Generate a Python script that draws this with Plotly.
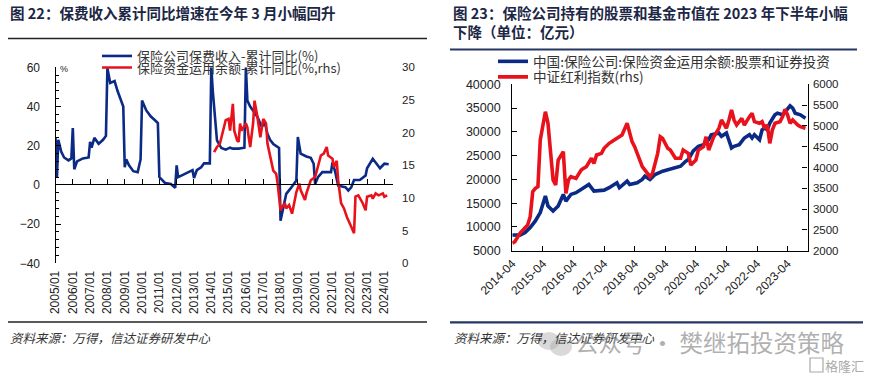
import plotly.graph_objects as go

W, H = 870, 377

# ---------------- Left chart data (Fig 22) ----------------
L_BLUE_DATES = ["2005-01", "2005-02", "2005-03", "2005-05", "2005-07", "2005-10", "2005-12",
                "2006-01", "2006-02", "2006-04", "2006-08", "2006-12",
                "2007-01", "2007-02", "2007-04", "2007-07", "2007-10", "2007-12",
                "2008-01", "2008-03", "2008-06", "2008-08", "2008-12",
                "2009-01", "2009-02", "2009-04", "2009-07", "2009-10", "2009-12",
                "2010-01", "2010-04", "2010-07", "2010-10", "2010-12",
                "2011-01", "2011-05", "2011-09", "2011-12",
                "2012-01", "2012-02", "2012-05", "2012-09", "2012-12",
                "2013-01", "2013-03", "2013-06", "2013-08", "2013-12",
                "2014-01", "2014-02", "2014-04", "2014-05", "2014-08", "2014-11",
                "2015-02", "2015-04", "2015-08", "2015-12",
                "2016-01", "2016-02", "2016-04", "2016-09", "2016-12",
                "2017-02", "2017-04", "2017-06", "2017-08", "2017-12",
                "2018-01", "2018-03", "2018-05", "2018-08", "2018-12",
                "2019-01", "2019-03", "2019-07", "2019-10", "2019-12",
                "2020-01", "2020-03", "2020-06", "2020-12",
                "2021-01", "2021-03", "2021-05", "2021-10", "2021-12",
                "2022-02", "2022-04", "2022-08", "2022-12",
                "2023-01", "2023-03", "2023-05", "2023-10",
                "2024-01", "2024-04"]
L_BLUE = [24, 4, 23, 17, 14, 12.5, 13.5,
          29, 8, 12, 13.5, 14,
          22, 19, 24, 21, 23, 25,
          59.5, 52, 53, 48, 40,
          9, 13, 10, 7, 6.5, 13,
          43, 38, 35, 33, 31.5,
          4, 1, 0.5, -1.5,
          10, 4, 5, 6.5, 7.5,
          3.5, 7.5, 9, 11, 11,
          60, 48, 31, 22.7, 18.8, 18,
          19, 18.5, 18.5, 19,
          60, 43, 40, 34.7, 29.5,
          32, 26, 22.7, 20.9, 18.8,
          -18.3, -11.5, -4.6, -1.8, 2.2,
          24.4, 16, 14.5, 13.8, 10.8,
          0.5, 3.9, 6.5, 6.5,
          11.5, 6.5, -0.4, -1.2, -2.9,
          -1.2, 2.5, 2.5, 4.8,
          8.5, 10.8, 13.3, 8.5,
          10.8, 10.5]

L_RED_DATES = ["2014-03", "2014-05", "2014-07", "2014-08", "2014-11",
               "2015-01", "2015-02", "2015-04", "2015-05", "2015-07", "2015-08", "2015-09", "2015-10",
               "2016-01", "2016-02", "2016-03", "2016-04", "2016-06", "2016-07", "2016-09", "2016-10", "2016-11",
               "2017-01", "2017-03", "2017-04", "2017-05", "2017-06", "2017-08", "2017-10", "2017-11",
               "2018-01", "2018-02", "2018-04", "2018-05", "2018-07", "2018-09", "2018-12",
               "2019-02", "2019-03", "2019-06", "2019-07", "2019-10",
               "2020-01", "2020-03", "2020-05", "2020-07", "2020-09", "2020-10",
               "2021-01", "2021-02", "2021-04", "2021-05", "2021-07", "2021-09", "2021-11",
               "2022-02", "2022-04", "2022-05", "2022-07", "2022-10", "2022-12",
               "2023-01", "2023-04", "2023-05", "2023-07", "2023-09", "2023-12",
               "2024-01", "2024-03"]
L_RED = [17.0, 17.8, 18.3, 19.3, 21.9,
         22.1, 20.3, 24.4, 20.3, 18.8, 18.6, 21.4, 20.3,
         21.4, 20.8, 19.3, 17.8, 21.4, 24.9, 22.4, 20.8, 19.3,
         22.1, 21.4, 18.3, 17.3, 15.8, 14.2, 13.7, 12.2,
         8.1, 8.6, 9.2, 8.4, 8.9, 7.6, 10.9,
         12.2, 11.2, 9.7, 10.7, 12.7,
         13.2, 14.7, 16.5, 16.8, 17.8, 16.5,
         16.0, 14.7, 15.7, 12.7, 9.2, 8.4, 7.1,
         5.6, 4.6, 10.2, 10.4, 9.2, 8.1,
         10.2, 10.4, 9.9, 10.7, 10.4, 10.7,
         10.2, 10.4]

# ---------------- Right chart data (Fig 23) ----------------
R_BLUE_DATES = ["2014-04", "2014-07", "2014-09", "2014-11", "2015-01", "2015-03", "2015-05", "2015-06",
                "2015-08", "2015-10", "2015-12", "2016-01", "2016-03", "2016-05", "2016-08", "2016-10",
                "2016-12", "2017-04", "2017-06", "2017-09", "2017-10", "2018-01", "2018-02", "2018-05",
                "2018-07", "2018-08", "2018-10", "2018-12", "2019-03", "2019-07", "2019-10", "2019-12",
                "2020-01", "2020-03", "2020-05", "2020-07", "2020-09", "2020-10", "2021-01", "2021-02",
                "2021-04", "2021-06", "2021-07", "2021-09", "2021-11", "2022-01", "2022-02", "2022-03",
                "2022-05", "2022-06", "2022-07", "2022-08", "2022-09", "2022-11", "2022-12", "2023-02",
                "2023-03", "2023-05", "2023-06", "2023-07", "2023-09", "2023-10", "2023-11"]
R_BLUE = [8300, 8270, 8830, 9880, 11260, 13010, 16490, 14400,
          13350, 14400, 16840, 15440, 16840, 17200, 18240, 18930,
          17530, 17740, 18240, 19290, 18240, 19620, 18930, 19290,
          19980, 20670, 19980, 21030, 21720, 22420, 22760, 23800,
          24160, 26000, 26950, 27300, 28350, 29390, 29750, 29050,
          29750, 26610, 26950, 27300, 28700, 29390, 28700, 29390,
          28350, 30440, 30790, 30440, 31840, 33580, 33930, 33580,
          34270, 35460, 35000, 33930, 33580, 33220, 32880]

R_RED_DATES = ["2014-04", "2014-05", "2014-07", "2014-08", "2014-10", "2014-11", "2014-12",
               "2015-01", "2015-02", "2015-03", "2015-05", "2015-06", "2015-07", "2015-08", "2015-09",
               "2015-10", "2015-12", "2016-01", "2016-02", "2016-03", "2016-05", "2016-07", "2016-08",
               "2016-09", "2016-11", "2016-12", "2017-01", "2017-03", "2017-04", "2017-06", "2017-08",
               "2017-10", "2017-11", "2018-01", "2018-02", "2018-03", "2018-04", "2018-05", "2018-06",
               "2018-07", "2018-09", "2018-10", "2018-11", "2019-01", "2019-02", "2019-03", "2019-05",
               "2019-06", "2019-08", "2019-10", "2019-11", "2020-01", "2020-02", "2020-04", "2020-05",
               "2020-07", "2020-08", "2020-09", "2020-11", "2021-01", "2021-02", "2021-04", "2021-05",
               "2021-06", "2021-07", "2021-08", "2021-10", "2021-11", "2022-01", "2022-02", "2022-03",
               "2022-05", "2022-06", "2022-07", "2022-08", "2022-09", "2022-10", "2022-11", "2023-01",
               "2023-02", "2023-03", "2023-04", "2023-05", "2023-06", "2023-08", "2023-09", "2023-11"]
R_RED = [2178, 2216, 2418, 2497, 2618, 2817, 3418,
         3500, 3538, 4661, 5341, 5062, 4260, 3699, 3579,
         4180, 4380, 3380, 3699, 3779, 3739, 3940, 3980,
         4020, 4221, 4100, 4300, 4340, 4461, 4582, 4661,
         4740, 4780, 5062, 4780, 4621, 4500, 4340, 4180,
         4020, 3860, 3779, 3860, 4340, 4740, 4700, 4461,
         4420, 4221, 4221, 4420, 4340, 4060, 4180, 4420,
         4500, 4740, 4420, 4740, 4942, 5142, 4942, 5142,
         5382, 5142, 5022, 5182, 5022, 5222, 5302, 5102,
         5062, 5102, 4942, 5022, 4582, 4900, 5062, 5102,
         5222, 5398, 5262, 5062, 5142, 5022, 4981, 4942]

L_LEGEND = ["保险公司保费收入-累计同比(%)", "保险资金运用余额-累计同比(%,rhs)"]
R_LEGEND = ["中国:保险公司:保险资金运用余额:股票和证券投资", "中证红利指数(rhs)"]

BLUE = "#0b2a85"
RED = "#e8121c"
NUM_FONT = "Liberation Sans, Arial, Noto Sans CJK SC"
CJK_FONT = "Noto Sans CJK SC"


def px_x(v):
    return v / W


def px_y(v):
    return 1 - v / H


fig = go.Figure()

# left chart traces
fig.add_trace(go.Scatter(x=L_BLUE_DATES, y=L_BLUE, mode="lines", name=L_LEGEND[0],
                         line=dict(color=BLUE, width=2.6), xaxis="x", yaxis="y", legend="legend"))
fig.add_trace(go.Scatter(x=L_RED_DATES, y=L_RED, mode="lines", name=L_LEGEND[1],
                         line=dict(color=RED, width=2.6), xaxis="x", yaxis="y2", legend="legend2"))
# invisible carrier so the zero-line axis is drawn
fig.add_trace(go.Scatter(x=L_BLUE_DATES, y=L_BLUE, mode="lines", showlegend=False,
                         line=dict(width=0), opacity=0, hoverinfo="skip", xaxis="x3", yaxis="y"))

# right chart traces
fig.add_trace(go.Scatter(x=R_BLUE_DATES, y=R_BLUE, mode="lines", name=R_LEGEND[0],
                         line=dict(color=BLUE, width=3.6), xaxis="x2", yaxis="y3", legend="legend3"))
fig.add_trace(go.Scatter(x=R_RED_DATES, y=R_RED, mode="lines", name=R_LEGEND[1],
                         line=dict(color=RED, width=3.6), xaxis="x2", yaxis="y4", legend="legend4"))

L_X0, L_X1 = px_x(55.5), px_x(393)
L_Y0, L_Y1 = px_y(263.3), px_y(67.3)
R_X0, R_X1 = px_x(512.3), px_x(807.5)
R_Y0, R_Y1 = px_y(250.7), px_y(84.3)

tickfont = dict(family=NUM_FONT, size=12, color="#222")

fig.update_layout(
    width=W, height=H,
    margin=dict(l=0, r=0, t=0, b=0, autoexpand=False),
    paper_bgcolor="white", plot_bgcolor="rgba(0,0,0,0)",
    showlegend=True,
    xaxis=dict(domain=[L_X0, L_X1], anchor="y", type="date", automargin=False,
               range=["2005-01-01", "2024-07-01"], tick0="2005-01-01", dtick="M12",
               tickformat="%Y/%m", tickangle=-90, showline=False, ticks="",
               showgrid=False, zeroline=False, tickfont=tickfont, ticklabelstandoff=4),
    xaxis3=dict(overlaying="x", matches="x", anchor="free", position=px_y(184.3), type="date",
                automargin=False,
                tick0="2005-01-01", dtick="M12", showticklabels=False, showline=True,
                linecolor="#000", linewidth=1.2, ticks="inside", ticklen=5, tickcolor="#000",
                showgrid=False, zeroline=False),
    yaxis=dict(domain=[L_Y0, L_Y1], anchor="x", range=[-40, 60], dtick=20, automargin=False,
               showline=True, linecolor="#000", linewidth=1.2, ticks="inside", ticklen=5,
               tickcolor="#000", minor=dict(ticks="inside", ticklen=3, dtick=4, tickcolor="#000"),
               showgrid=False, zeroline=False, tickfont=tickfont, ticklabelstandoff=12),
    yaxis2=dict(overlaying="y", anchor="x", side="right", range=[0, 30], dtick=5, automargin=False,
                showline=False, ticks="", showgrid=False, zeroline=False,
                tickfont=dict(family=NUM_FONT, size=11.5, color="#222"), ticklabelstandoff=8),
    xaxis2=dict(domain=[R_X0, R_X1], anchor="y3", type="date", automargin=False,
                range=["2014-04-01", "2023-11-25"], tick0="2014-04-01", dtick="M12",
                tickformat="%Y-%m", tickangle=-45, showline=True, linecolor="#000", linewidth=1.2,
                ticks="inside", ticklen=5, tickcolor="#000", showgrid=False, zeroline=False,
                tickfont=tickfont),
    yaxis3=dict(domain=[R_Y0, R_Y1], anchor="x2", range=[5000, 40000], dtick=5000, automargin=False,
                tickformat="d",
                showline=True, linecolor="#000", linewidth=1.2, ticks="inside", ticklen=5,
                tickcolor="#000", showgrid=False, zeroline=False,
                tickfont=dict(family=NUM_FONT, size=12.5, color="#222"), ticklabelstandoff=8),
    yaxis4=dict(overlaying="y3", anchor="x2", side="right", range=[2000, 6000], dtick=500,
                automargin=False, tickformat="d",
                showline=True, linecolor="#000", linewidth=1.2, ticks="inside", ticklen=5,
                tickcolor="#000", showgrid=False, zeroline=False,
                tickfont=dict(family=NUM_FONT, size=11.5, color="#222"), ticklabelstandoff=2),
)

leg_common = dict(xanchor="left", yanchor="middle", bgcolor="rgba(0,0,0,0)",
                  borderwidth=0, itemwidth=30, xref="container", yref="container")
fig.update_layout(
    legend=dict(x=px_x(97), y=px_y(56), font=dict(family=CJK_FONT, size=13, color="#333"), **leg_common),
    legend2=dict(x=px_x(97), y=px_y(67.5), font=dict(family=CJK_FONT, size=13, color="#333"), **leg_common),
    legend3=dict(x=px_x(493), y=px_y(61.5), font=dict(family=CJK_FONT, size=13.6, color="#333"), **leg_common),
    legend4=dict(x=px_x(493), y=px_y(77), font=dict(family=CJK_FONT, size=13.6, color="#333"), **leg_common),
)

TITLE_COLOR = "#1b2745"
ann = []
ann.append(dict(x=px_x(8), y=px_y(12), xref="paper", yref="paper", xanchor="left", yanchor="middle",
                text="<b>图 22：保费收入累计同比增速在今年 3 月小幅回升</b>", showarrow=False,
                font=dict(family=CJK_FONT, size=14.5, color=TITLE_COLOR)))
ann.append(dict(x=px_x(451), y=px_y(12), xref="paper", yref="paper", xanchor="left", yanchor="middle",
                text="<b>图 23：保险公司持有的股票和基金市值在 2023 年下半年小幅</b>", showarrow=False,
                font=dict(family=CJK_FONT, size=14.5, color=TITLE_COLOR)))
ann.append(dict(x=px_x(451), y=px_y(32), xref="paper", yref="paper", xanchor="left", yanchor="middle",
                text="<b>下降（单位：亿元）</b>", showarrow=False,
                font=dict(family=CJK_FONT, size=14.5, color=TITLE_COLOR)))
for sx in (8, 452):
    ann.append(dict(x=px_x(sx), y=px_y(337), xref="paper", yref="paper", xanchor="left", yanchor="middle",
                    text="<i>资料来源：万得，信达证券研发中心</i>", showarrow=False,
                    font=dict(family=CJK_FONT, size=12.5, color="#333")))
ann.append(dict(x=px_x(58), y=px_y(69), xref="paper", yref="paper", xanchor="left", yanchor="middle",
                text="%", showarrow=False, font=dict(family=NUM_FONT, size=9, color="#222")))
ann.append(dict(x=px_x(573), y=px_y(342), xref="paper", yref="paper", xanchor="left", yanchor="middle",
                text="公众号 · 樊继拓投资策略", showarrow=False,
                font=dict(family=CJK_FONT, size=23.5, color="rgba(150,150,150,0.75)")))
ann.append(dict(x=px_x(866), y=px_y(365), xref="paper", yref="paper", xanchor="right", yanchor="middle",
                text="格隆汇", showarrow=False,
                font=dict(family=CJK_FONT, size=13, color="rgba(160,160,160,0.9)")))
fig.update_layout(annotations=ann)

shapes = [
    dict(type="line", xref="paper", yref="paper", x0=px_x(8), x1=px_x(427), y0=px_y(38.5), y1=px_y(38.5),
         line=dict(color="#222", width=1.6)),
    dict(type="line", xref="paper", yref="paper", x0=px_x(450), x1=px_x(857), y0=px_y(49.5), y1=px_y(49.5),
         line=dict(color="#263766", width=2.2)),
    dict(type="line", xref="paper", yref="paper", x0=px_x(8), x1=px_x(427), y0=px_y(322), y1=px_y(322),
         line=dict(color="#222", width=1.6)),
    dict(type="line", xref="paper", yref="paper", x0=px_x(450), x1=px_x(863), y0=px_y(322.3), y1=px_y(322.3),
         line=dict(color="#263766", width=2.2)),
    # faint WeChat-like icon next to watermark
    dict(type="circle", xref="paper", yref="paper", x0=px_x(538), x1=px_x(560), y0=px_y(350), y1=px_y(332),
         fillcolor="rgba(170,170,170,0.45)", line=dict(width=0)),
    dict(type="circle", xref="paper", yref="paper", x0=px_x(550), x1=px_x(572), y0=px_y(356), y1=px_y(338),
         fillcolor="rgba(170,170,170,0.45)", line=dict(width=0)),
    dict(type="rect", xref="paper", yref="paper", x0=px_x(810), x1=px_x(823), y0=px_y(372), y1=px_y(358),
         line=dict(color="rgba(160,160,160,0.9)", width=1.2)),
]
fig.update_layout(shapes=shapes)

# remove the browser's default 8px page margin so the figure sits at the window origin
fig.write_html("out.html", config={"displayModeBar": False},
               post_script="document.body.style.margin='0';document.body.style.padding='0';")
